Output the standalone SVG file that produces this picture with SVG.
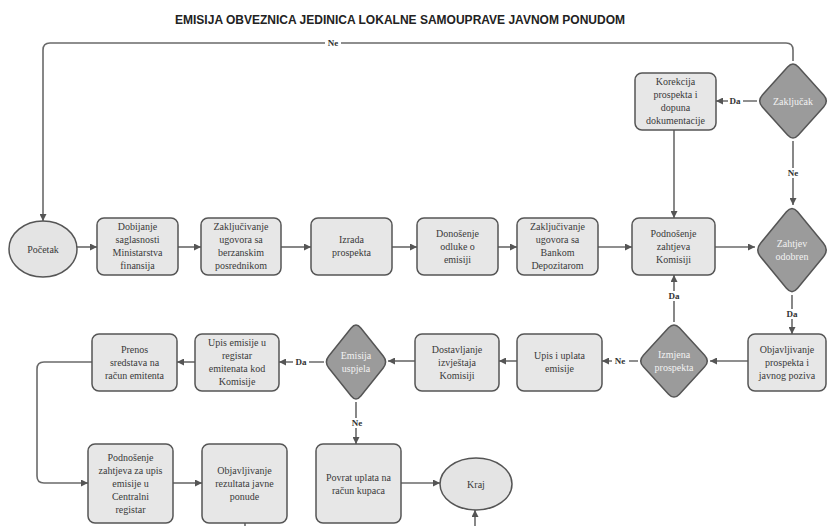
<svg xmlns="http://www.w3.org/2000/svg" width="829" height="526" viewBox="0 0 829 526">
<style>
.box{fill:#e7e7e7;stroke:#555;stroke-width:1.5}
.dia{fill:#9b9b9b;stroke:#555;stroke-width:1.5}
.ell{fill:#e4e4e4;stroke:#555;stroke-width:1.5}
.t{font-family:"Liberation Serif","Times New Roman",serif;font-size:10px;fill:#3a3a3a;text-anchor:middle}
.td{font-family:"Liberation Serif","Times New Roman",serif;font-size:10px;fill:#f2f2f2;text-anchor:middle}
.ln{fill:none;stroke:#6a6a6a;stroke-width:1.6}
.lbl{font-family:"Liberation Serif","Times New Roman",serif;font-size:9px;font-weight:bold;fill:#333;text-anchor:middle}
.bg{fill:#fff}
.title{font-family:"Liberation Sans",Arial,sans-serif;font-size:12px;font-weight:bold;fill:#222;text-anchor:middle}
</style>
<defs>
<marker id="arr" markerUnits="userSpaceOnUse" markerWidth="7" markerHeight="7" refX="7" refY="3.5" orient="auto">
<path d="M0,0 L7,3.5 L0,7 z" fill="#555"/>
</marker>
</defs>
<rect width="829" height="526" fill="#fff"/>
<text class="title" x="400" y="24" textLength="450" lengthAdjust="spacingAndGlyphs">EMISIJA OBVEZNICA JEDINICA LOKALNE SAMOUPRAVE JAVNOM PONUDOM</text>

<g id="connectors">
<path class="ln" d="M77,247 H97" marker-end="url(#arr)"/>
<path class="ln" d="M178,247 H201" marker-end="url(#arr)"/>
<path class="ln" d="M281,247 H311" marker-end="url(#arr)"/>
<path class="ln" d="M392,247 H417" marker-end="url(#arr)"/>
<path class="ln" d="M498,247 H517" marker-end="url(#arr)"/>
<path class="ln" d="M598,247 H632" marker-end="url(#arr)"/>
<path class="ln" d="M715,247 H755" marker-end="url(#arr)"/>
<path class="ln" d="M757,101 H716" marker-end="url(#arr)"/>
<path class="ln" d="M793,141 V205" marker-end="url(#arr)"/>
<path class="ln" d="M793,61 V50 Q793,43 786,43 H50 Q43,43 43,50 V221" marker-end="url(#arr)"/>
<path class="ln" d="M674,130 V218" marker-end="url(#arr)"/>
<path class="ln" d="M792,295 V334" marker-end="url(#arr)"/>
<path class="ln" d="M748,361 H710" marker-end="url(#arr)"/>
<path class="ln" d="M674,322 V275" marker-end="url(#arr)"/>
<path class="ln" d="M638,361 H602" marker-end="url(#arr)"/>
<path class="ln" d="M517,361 H499" marker-end="url(#arr)"/>
<path class="ln" d="M415,361 H388" marker-end="url(#arr)"/>
<path class="ln" d="M324,362 H279" marker-end="url(#arr)"/>
<path class="ln" d="M195,362 H177" marker-end="url(#arr)"/>
<path class="ln" d="M92,362 H44 Q37,362 37,369 V476 Q37,483 44,483 H88" marker-end="url(#arr)"/>
<path class="ln" d="M173,483 H202" marker-end="url(#arr)"/>
<path class="ln" d="M245,523 V526"/>
<path class="ln" d="M356,402 V444" marker-end="url(#arr)"/>
<path class="ln" d="M401,483 H440" marker-end="url(#arr)"/>
<path class="ln" d="M475,526 V510" marker-end="url(#arr)"/>
<rect class="bg" x="325" y="38" width="16" height="10"/><text class="lbl" x="333" y="46">Ne</text>
<rect class="bg" x="728" y="96" width="15" height="10"/><text class="lbl" x="735" y="104">Da</text>
<rect class="bg" x="785" y="168" width="16" height="10"/><text class="lbl" x="793" y="176">Ne</text>
<rect class="bg" x="784" y="309" width="16" height="10"/><text class="lbl" x="792" y="317">Da</text>
<rect class="bg" x="666" y="291" width="16" height="10"/><text class="lbl" x="674" y="299">Da</text>
<rect class="bg" x="612" y="356" width="17" height="10"/><text class="lbl" x="620" y="364">Ne</text>
<rect class="bg" x="293" y="357" width="16" height="10"/><text class="lbl" x="301" y="365">Da</text>
<rect class="bg" x="348" y="418" width="17" height="10"/><text class="lbl" x="357" y="426">Ne</text>
</g>

<g id="n_pocetak"><ellipse class="ell" cx="43" cy="249" rx="34" ry="28"/><text class="t" x="43" y="252.5">Početak</text></g>
<g id="n_dobijanje"><rect class="box" x="97" y="218" width="81" height="57" rx="7"/><text class="t" x="137.5" y="230"><tspan x="137.5">Dobijanje</tspan><tspan x="137.5" dy="13">saglasnosti</tspan><tspan x="137.5" dy="13">Ministarstva</tspan><tspan x="137.5" dy="13">finansija</tspan></text></g>
<g id="n_zakljucivanje1"><rect class="box" x="201" y="218" width="80" height="57" rx="7"/><text class="t" x="241" y="230"><tspan x="241">Zaključivanje</tspan><tspan x="241" dy="13">ugovora sa</tspan><tspan x="241" dy="13">berzanskim</tspan><tspan x="241" dy="13">posrednikom</tspan></text></g>
<g id="n_izrada"><rect class="box" x="311" y="218" width="81" height="57" rx="7"/><text class="t" x="351.5" y="243"><tspan x="351.5">Izrada</tspan><tspan x="351.5" dy="13">prospekta</tspan></text></g>
<g id="n_donosenje"><rect class="box" x="417" y="218" width="81" height="57" rx="7"/><text class="t" x="457.5" y="236.5"><tspan x="457.5">Donošenje</tspan><tspan x="457.5" dy="13">odluke o</tspan><tspan x="457.5" dy="13">emisiji</tspan></text></g>
<g id="n_zakljucivanje2"><rect class="box" x="517" y="218" width="81" height="57" rx="7"/><text class="t" x="557.5" y="230"><tspan x="557.5">Zaključivanje</tspan><tspan x="557.5" dy="13">ugovora sa</tspan><tspan x="557.5" dy="13">Bankom</tspan><tspan x="557.5" dy="13">Depozitarom</tspan></text></g>
<g id="n_podnosenje"><rect class="box" x="632" y="218" width="83" height="57" rx="7"/><text class="t" x="673.5" y="236.5"><tspan x="673.5">Podnošenje</tspan><tspan x="673.5" dy="13">zahtjeva</tspan><tspan x="673.5" dy="13">Komisiji</tspan></text></g>
<g id="n_zahtjev"><path class="dia" d="M786.45,211.75 Q792,205 797.55,211.75 L823.45,243.25 Q829,250 823.45,256.75 L797.55,288.25 Q792,295 786.45,288.25 L760.55,256.75 Q755,250 760.55,243.25 Z"/><text class="td" x="792" y="247"><tspan x="792">Zahtjev</tspan><tspan x="792" dy="13">odobren</tspan></text></g>
<g id="n_zakljucak"><path class="dia" d="M787.6,67 Q793,61 798.4,67 L823.6,95 Q829,101 823.6,107 L798.4,135 Q793,141 787.6,135 L762.4,107 Q757,101 762.4,95 Z"/><text class="td" x="793" y="104.5">Zaključak</text></g>
<g id="n_korekcija"><rect class="box" x="635" y="73" width="81" height="57" rx="7"/><text class="t" x="675.5" y="85"><tspan x="675.5">Korekcija</tspan><tspan x="675.5" dy="13">prospekta i</tspan><tspan x="675.5" dy="13">dopuna</tspan><tspan x="675.5" dy="13">dokumentacije</tspan></text></g>
<g id="n_objav_prospekta"><rect class="box" x="748" y="334" width="78" height="57" rx="7"/><text class="t" x="787" y="352.5"><tspan x="787">Objavljivanje</tspan><tspan x="787" dy="13">prospekta i</tspan><tspan x="787" dy="13">javnog poziva</tspan></text></g>
<g id="n_izmjena"><path class="dia" d="M668.6,327.85 Q674,322 679.4,327.85 L704.6,355.15 Q710,361 704.6,366.85 L679.4,394.15 Q674,400 668.6,394.15 L643.4,366.85 Q638,361 643.4,355.15 Z"/><text class="td" x="674" y="358"><tspan x="674">Izmjena</tspan><tspan x="674" dy="13">prospekta</tspan></text></g>
<g id="n_upis_uplata"><rect class="box" x="517" y="334" width="85" height="57" rx="7"/><text class="t" x="559.5" y="359"><tspan x="559.5">Upis i uplata</tspan><tspan x="559.5" dy="13">emisije</tspan></text></g>
<g id="n_dostavljanje"><rect class="box" x="415" y="334" width="84" height="57" rx="7"/><text class="t" x="457" y="352.5"><tspan x="457">Dostavljanje</tspan><tspan x="457" dy="13">izvještaja</tspan><tspan x="457" dy="13">Komisiji</tspan></text></g>
<g id="n_emisija_uspjela"><path class="dia" d="M351.2,328 Q356,322 360.8,328 L383.2,356 Q388,362 383.2,368 L360.8,396 Q356,402 351.2,396 L328.8,368 Q324,362 328.8,356 Z"/><text class="td" x="356" y="359"><tspan x="356">Emisija</tspan><tspan x="356" dy="13">uspjela</tspan></text></g>
<g id="n_upis_registar"><rect class="box" x="195" y="334" width="84" height="57" rx="7"/><text class="t" x="237" y="346"><tspan x="237">Upis emisije u</tspan><tspan x="237" dy="13">registar</tspan><tspan x="237" dy="13">emitenata kod</tspan><tspan x="237" dy="13">Komisije</tspan></text></g>
<g id="n_prenos"><rect class="box" x="92" y="334" width="85" height="57" rx="7"/><text class="t" x="134.5" y="352.5"><tspan x="134.5">Prenos</tspan><tspan x="134.5" dy="13">sredstava na</tspan><tspan x="134.5" dy="13">račun emitenta</tspan></text></g>
<g id="n_podnosenje_cr"><rect class="box" x="88" y="444" width="85" height="79" rx="7"/><text class="t" x="130.5" y="461"><tspan x="130.5">Podnošenje</tspan><tspan x="130.5" dy="13">zahtjeva za upis</tspan><tspan x="130.5" dy="13">emisije u</tspan><tspan x="130.5" dy="13">Centralni</tspan><tspan x="130.5" dy="13">registar</tspan></text></g>
<g id="n_objav_rezultata"><rect class="box" x="202" y="444" width="85" height="79" rx="7"/><text class="t" x="244.5" y="474"><tspan x="244.5">Objavljivanje</tspan><tspan x="244.5" dy="13">rezultata javne</tspan><tspan x="244.5" dy="13">ponude</tspan></text></g>
<g id="n_povrat"><rect class="box" x="316" y="444" width="85" height="79" rx="7"/><text class="t" x="358.5" y="480.5"><tspan x="358.5">Povrat uplata na</tspan><tspan x="358.5" dy="13">račun kupaca</tspan></text></g>
<g id="n_kraj"><ellipse class="ell" cx="476" cy="484" rx="36" ry="26"/><text class="t" x="476" y="487.5">Kraj</text></g>
</svg>
